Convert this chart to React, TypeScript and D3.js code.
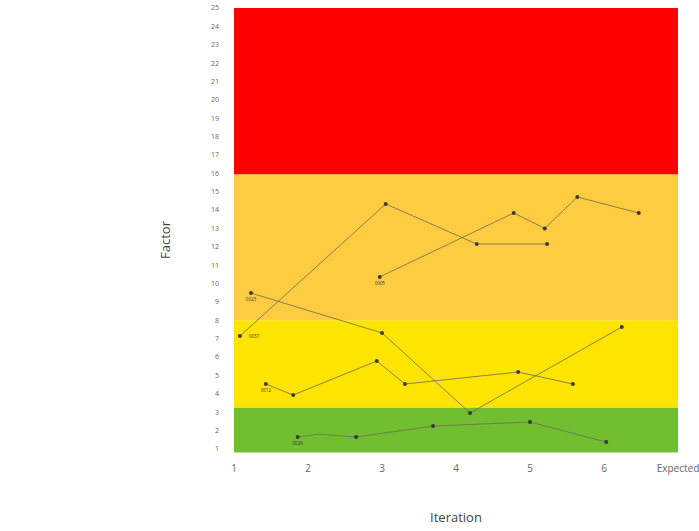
import React from "react";
import * as d3 from "d3";

const xTickValues = [1, 2, 3, 4, 5, 6, 7];
const xTickLabels = ["1", "2", "3", "4", "5", "6", "Expected"];
const yTickValues = d3.range(1, 26);

const bandNames = ["green", "yellow", "orange", "red"];
const bandFrom = [0.8, 3.25, 8, 15.95];
const bandTo = [3.25, 8, 15.95, 25];
const bandColors = ["#71BF31", "#FFE400", "#FDCC40", "#FF0000"];

const seriesNames = ["0037", "0005", "0023", "0012", "0026"];
const s0037x = [1.08, 3.05, 4.28, 5.23];
const s0037y = [7.14, 14.33, 12.15, 12.15];
const s0005x = [2.97, 4.78, 5.2, 5.64, 6.47];
const s0005y = [10.36, 13.84, 13.0, 14.71, 13.84];
const s0023x = [1.23, 3.0, 4.19, 6.24];
const s0023y = [9.48, 7.31, 2.95, 7.63];
const s0012x = [1.43, 1.8, 2.93, 3.31, 4.84, 5.58];
const s0012y = [4.53, 3.93, 5.78, 4.53, 5.18, 4.53];
const s0026x = [1.86, 2.14, 2.65, 3.69, 5.0, 6.03];
const s0026y = [1.64, 1.8, 1.64, 2.24, 2.46, 1.37];
const s0026marker = [true, false, true, true, true, true];

const seriesX = [s0037x, s0005x, s0023x, s0012x, s0026x];
const seriesY = [s0037y, s0005y, s0023y, s0012y, s0026y];
const labelSide = ["right", "below", "below", "below", "below"];

export default function App() {
  const W = 699;
  const H = 531;
  const x = d3.scaleLinear().domain([1, 7]).range([234, 678]);
  const y = d3.scaleLinear().domain([0.8, 25]).range([452.5, 8]);
  const line = d3
    .line<[number, number]>()
    .x((d) => x(d[0]))
    .y((d) => y(d[1]));
  const font = "'Open Sans', 'DejaVu Sans', sans-serif";

  return (
    <svg
      width={W}
      height={H}
      style={{ position: "absolute", left: 0, top: 0, background: "#fff" }}
    >
      {bandNames.map((n, i) => (
        <rect
          key={n}
          x={x(1)}
          y={y(bandTo[i])}
          width={x(7) - x(1)}
          height={y(bandFrom[i]) - y(bandTo[i])}
          fill={bandColors[i]}
        />
      ))}
      {yTickValues.map((v) => (
        <text
          key={v}
          x={219}
          y={y(v)}
          dy="0.35em"
          textAnchor="end"
          fontSize={7}
          fill="#666"
          fontFamily={font}
        >
          {v}
        </text>
      ))}
      {xTickValues.map((v, i) => (
        <text
          key={v}
          x={x(v)}
          y={468}
          dy="0.35em"
          textAnchor="middle"
          fontSize={10}
          fill="#666"
          fontFamily={font}
        >
          {xTickLabels[i]}
        </text>
      ))}
      {seriesNames.map((name, si) => {
        const pts: [number, number][] = seriesX[si].map((vx, j) => [vx, seriesY[si][j]]);
        const lx = x(pts[0][0]);
        const ly = y(pts[0][1]);
        return (
          <g key={name}>
            <path d={line(pts) || ""} fill="none" stroke="#6b6b55" strokeWidth={0.8} />
            {pts.map((p, j) =>
              name === "0026" && !s0026marker[j] ? null : (
                <circle key={j} cx={x(p[0])} cy={y(p[1])} r={2} fill="#3a3a3a" />
              )
            )}
            <text
              x={labelSide[si] === "right" ? lx + 9 : lx}
              y={labelSide[si] === "right" ? ly + 2 : ly + 8}
              textAnchor={labelSide[si] === "right" ? "start" : "middle"}
              fontSize={4.5}
              fill="#333"
              fontFamily={font}
            >
              {name}
            </text>
          </g>
        );
      })}
      <text
        transform="translate(170,240) rotate(-90)"
        textAnchor="middle"
        fontSize={13}
        fill="#444"
        fontFamily={font}
      >
        Factor
      </text>
      <text
        x={456}
        y={522}
        textAnchor="middle"
        fontSize={13}
        fill="#444"
        fontFamily={font}
      >
        Iteration
      </text>
    </svg>
  );
}
